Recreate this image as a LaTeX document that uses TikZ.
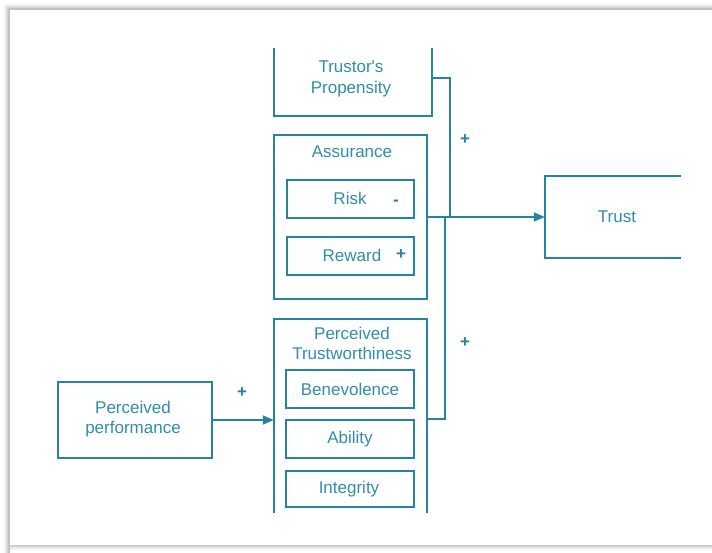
\documentclass[tikz,border=0pt]{standalone}
\usepackage{fontspec}
\setmainfont{Liberation Sans}
\usetikzlibrary{arrows.meta}
\definecolor{teal1}{RGB}{38,132,160}
\definecolor{tealtext}{RGB}{48,142,170}
\begin{document}
\begin{tikzpicture}[x=1pt,y=-1pt,
  box/.style={draw=teal1,line width=1.8pt,minimum width=#1,inner sep=0pt},
  bare/.style={inner sep=0pt,minimum width=#1},
  txt/.style={text=tealtext,font=\fontsize{17}{20.5}\selectfont,align=center,inner sep=0pt},
  sign/.style={text=teal1,font=\fontsize{17}{20}\selectfont\bfseries,inner sep=0pt},
  conn/.style={draw=teal1,line width=1.8pt},
  arr/.style={conn,-{Triangle[length=11pt,width=9pt]}}]
\useasboundingbox (0,0) rectangle (712,552);
% page frame with soft shadow
\foreach \o/\c in {4/black!4,3/black!7,2/black!11,1/black!16}{
  \draw[\c,line width=1.2pt] (9-\o,720) -- (9-\o,9-\o) -- (720,9-\o);
  \draw[\c,line width=1.2pt] (9-\o,545+\o) -- (720,545+\o);
}
\draw[black!24,line width=1.2pt] (9,720) -- (9,9) -- (720,9);
\draw[black!22,line width=1pt] (9,545) -- (720,545);
\fill[white] (10,10) rectangle (712,544);

% boxes with open sides
\node[bare=158pt,minimum height=68pt] (prop) at (353,82) {};
\draw[conn] (prop.north west) -- (prop.south west) -- (prop.south east) -- (prop.north east);
\node[txt] (propt) at (351,79) {Trustor\textquotesingle s\\Propensity};

\node[box=153pt,minimum height=164pt] (assur) at (350.5,217) {};
\node[txt] (assurt) at (352,152) {Assurance};
\node[box=127pt,minimum height=38pt] (risk) at (350.5,199) {};
\node[txt] (riskt) at (350,198) {Risk};
\node[sign] (riskm) at (396,202.5) {-};
\node[box=127pt,minimum height=38pt] (rew) at (350.5,256) {};
\node[txt] (rewt) at (352,255) {Reward};
\node[sign] (rewp) at (401,255) {+};

\node[bare=136pt,minimum height=82pt] (trust) at (613,217) {};
\draw[conn] (trust.north east) -- (trust.north west) -- (trust.south west) -- (trust.south east);
\node[txt] (trustt) at (617,217) {Trust};

\node[bare=153pt,minimum height=194pt] (ptw) at (350.5,416) {};
\draw[conn] (ptw.south west) -- (ptw.north west) -- (ptw.north east) -- (ptw.south east);
\node[txt] (ptwt) at (352,343.5) {Perceived\\Trustworthiness};
\node[box=128pt,minimum height=38pt] (ben) at (350,389) {};
\node[txt] (bent) at (350,389) {Benevolence};
\node[box=128pt,minimum height=38pt] (abi) at (350,439) {};
\node[txt] (abit) at (350,439) {Ability};
\node[box=128pt,minimum height=36pt] (integ) at (350,489) {};
\node[txt] (integt) at (349,489) {Integrity};

\node[box=154pt,minimum height=76pt] (perf) at (135,420) {};
\node[txt] (perft) at (133,419) {Perceived\\performance};

% connectors
\coordinate (jprop) at (450,217);
\coordinate (jptw) at (445,217);
\draw[conn] ([yshift=4pt]prop.east) -| (jprop);
\draw[conn] ([yshift=-3pt]ptw.east) -| (jptw);
\draw[arr] (assur.east) -- (trust.west);
\draw[arr] (perf.east) -- (perf.east -| ptw.west);

% signs on the links
\node[sign] (p1) at (465,140) {+};
\node[sign] (p2) at (465,343) {+};
\node[sign] (p3) at (242,393) {+};
\end{tikzpicture}
\end{document}
